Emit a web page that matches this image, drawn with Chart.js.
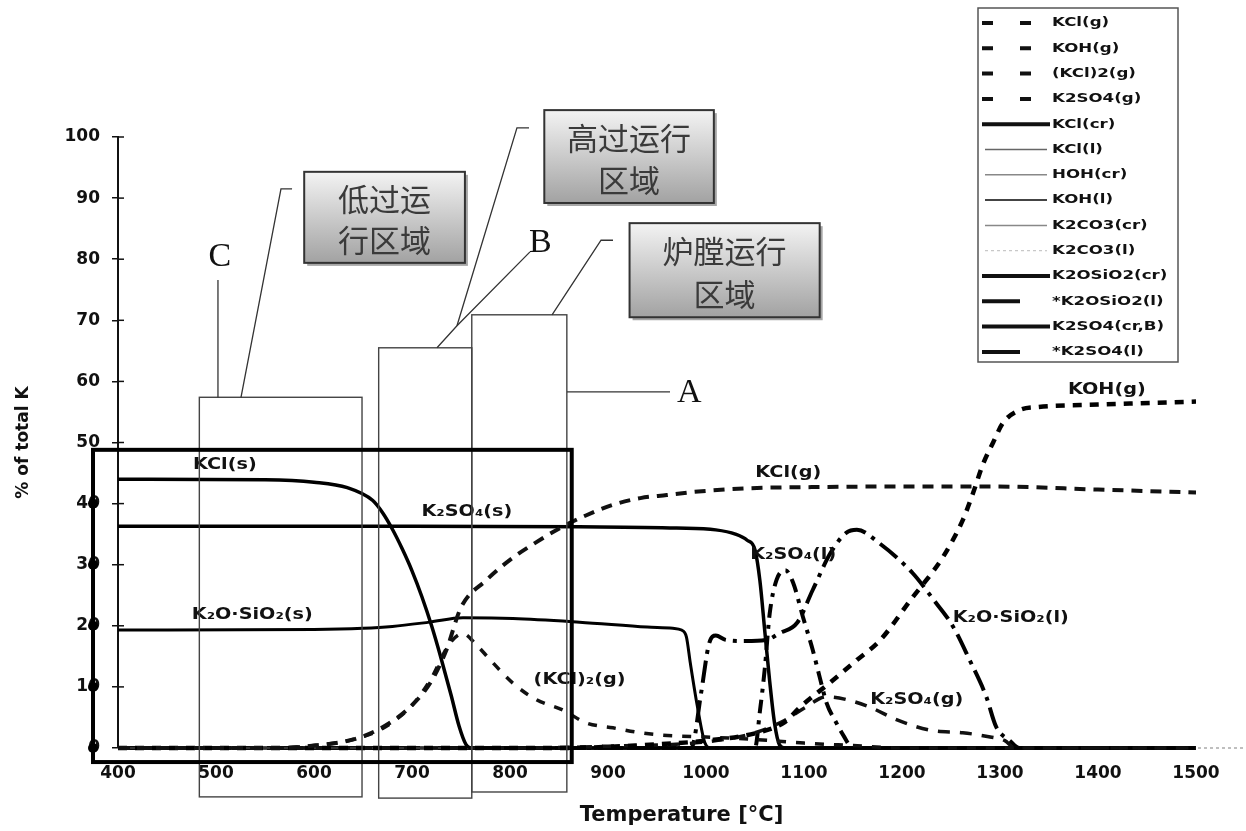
<!DOCTYPE html>
<html>
<head>
<meta charset="utf-8">
<script src="https://cdn.jsdelivr.net/npm/chart.js@4.4.1/dist/chart.umd.min.js"></script>
<style>
  html, body { margin: 0; padding: 0; background: #fff; }
  #wrap { width: 1246px; height: 831px; position: relative; }
</style>
</head>
<body>
<div id="wrap"><canvas id="chart"></canvas></div>
<script>
// temperature (°C) / % of total K
var kclGT = [400, 560, 600, 640, 670, 700, 720, 735, 750, 776, 800, 827, 851, 878, 905, 933, 960, 987, 1042, 1109, 1200, 1290, 1400, 1500];
var kclGV = [0, 0, 0.4, 1.4, 3.4, 7, 11, 16, 23, 27.5, 30.8, 33.7, 36, 38.1, 39.8, 40.9, 41.4, 41.9, 42.5, 42.7, 42.8, 42.8, 42.3, 41.8];

var kohGT = [400, 850, 950, 1000, 1050, 1080, 1096, 1125, 1154, 1178, 1211, 1225, 1242, 1262, 1272, 1283, 1293, 1303, 1320, 1338, 1400, 1500];
var kohGV = [0, 0, 0.6, 1.2, 2.4, 4.2, 6.7, 10.5, 14.4, 17.7, 24.7, 27.5, 31.3, 37.3, 41.5, 46.6, 50, 53.2, 55.3, 55.8, 56.2, 56.7];

var kcl2GT = [400, 560, 600, 640, 670, 700, 720, 738, 752, 765, 780, 803, 827, 854, 878, 905, 933, 956, 1000, 1050, 1100, 1150, 1200, 1500];
var kcl2GV = [0, 0, 0.4, 1.4, 3.2, 7, 11.5, 17, 18.7, 17, 14.4, 10.6, 7.9, 6.2, 4.1, 3.3, 2.5, 2.1, 1.8, 1.4, 0.8, 0.4, 0, 0];

var k2so4GT = [400, 800, 900, 1000, 1050, 1080, 1100, 1123, 1144, 1167, 1195, 1229, 1262, 1290, 1305, 1315, 1500];
var k2so4GV = [0, 0, 0.3, 1, 2.5, 4.5, 6.5, 8.4, 7.9, 6.7, 4.6, 2.9, 2.5, 1.8, 1.2, 0, 0];

var kclCrT = [400, 550, 600, 634, 660, 670, 680, 690, 700, 710, 720, 730, 740, 748, 755, 762, 1500];
var kclCrV = [44, 43.9, 43.5, 42.6, 40.5, 38.5, 35.8, 32.6, 29, 24.8, 20, 14.5, 8.6, 3.6, 0.6, 0, 0];

var zeroT = [400, 1500];
var zeroV = [0, 0];
var k2co3LT = [400, 1550];
var k2co3LV = [0, 0];

var k2osio2CrT = [400, 600, 650, 680, 718, 752, 803, 871, 940, 966, 975, 980, 984, 991, 999, 1005, 1500];
var k2osio2CrV = [19.3, 19.4, 19.6, 19.9, 20.6, 21.3, 21.2, 20.6, 19.8, 19.6, 19.3, 18.2, 13.9, 7, 0.8, 0, 0];

var k2osio2LT = [400, 985, 995, 1003, 1010, 1020, 1040, 1062, 1075, 1093, 1109, 1127, 1143, 1154, 1177, 1211, 1232, 1252, 1269, 1286, 1296, 1310, 1320, 1500];
var k2osio2LV = [0, 0, 9, 17, 18.4, 17.7, 17.5, 17.7, 18.8, 20.5, 25.9, 31.9, 35.2, 35.7, 33.5, 28.6, 24.3, 19.9, 14.4, 8.4, 3.5, 1.2, 0, 0];

var k2so4CrT = [400, 700, 870, 970, 1010, 1030, 1042, 1050, 1055, 1060, 1065, 1070, 1075, 1080, 1500];
var k2so4CrV = [36.3, 36.3, 36.2, 36.0, 35.7, 35, 34, 32.4, 27.4, 19.1, 10.9, 4, 0.5, 0, 0];

var k2so4LT = [400, 1050, 1055, 1060, 1065, 1072, 1081, 1089, 1099, 1109, 1116, 1123, 1133, 1140, 1150, 1500];
var k2so4LV = [0, 0, 6, 13, 22, 27.5, 29.1, 27, 21.4, 16, 11.6, 7.4, 4.1, 2.1, 0, 0];

var seriesLabels = ['KCl(g)', 'KOH(g)', '(KCl)2(g)', 'K2SO4(g)', 'KCl(cr)', 'KCl(l)', 'HOH(cr)', 'KOH(l)',
  'K2CO3(cr)', 'K2CO3(l)', 'K2OSiO2(cr)', '*K2OSiO2(l)', 'K2SO4(cr,B)', '*K2SO4(l)'];
var seriesT = [kclGT, kohGT, kcl2GT, k2so4GT, kclCrT, zeroT, zeroT, zeroT, zeroT, k2co3LT, k2osio2CrT, k2osio2LT, k2so4CrT, k2so4LT];
var seriesV = [kclGV, kohGV, kcl2GV, k2so4GV, kclCrV, zeroV, zeroV, zeroV, zeroV, k2co3LV, k2osio2CrV, k2osio2LV, k2so4CrV, k2so4LV];

var xTicks = [400, 500, 600, 700, 800, 900, 1000, 1100, 1200, 1300, 1400, 1500];

// line looks, plot and legend
var styles = [
  { w: 4, dash: [11, 8], c: '#111', lw: 4, ld: [11, 27], lc: '#111' },
  { w: 4.5, dash: [9, 8], c: '#000', lw: 4, ld: [11, 27], lc: '#111' },
  { w: 3.5, dash: [9, 10], c: '#111', lw: 4, ld: [11, 27], lc: '#111' },
  { w: 3.5, dash: [12, 10], c: '#111', lw: 4, ld: [11, 27], lc: '#111' },
  { w: 3.5, dash: [], c: '#000', lw: 4, ld: [], lc: '#111' },
  { w: 2, dash: [], c: '#333', lw: 1.5, ld: [], lc: '#666', inset: 3 },
  { w: 2, dash: [], c: '#333', lw: 1.5, ld: [], lc: '#888', inset: 3 },
  { w: 3.5, dash: [], c: '#111', lw: 2, ld: [], lc: '#444', inset: 3 },
  { w: 2, dash: [], c: '#333', lw: 1.5, ld: [], lc: '#888', inset: 3 },
  { w: 1.5, dash: [3, 3], c: '#aaa', lw: 1, ld: [3, 3], lc: '#bbb', inset: 3 },
  { w: 3, dash: [], c: '#000', lw: 4, ld: [], lc: '#111' },
  { w: 4, dash: [22, 7, 4, 7], c: '#000', lw: 4, ld: [38, 40], lc: '#111' },
  { w: 3.5, dash: [], c: '#000', lw: 4, ld: [], lc: '#111' },
  { w: 4, dash: [14, 7, 4, 7], c: '#000', lw: 4, ld: [38, 40], lc: '#111' }
];

// annotations, in data units
var curveText = ['KCl(s)', 'K\u2082SO\u2084(s)', 'K\u2082O\u00b7SiO\u2082(s)', '(KCl)\u2082(g)', 'KCl(g)', 'KOH(g)',
  'K\u2082SO\u2084(l)', 'K\u2082O\u00b7SiO\u2082(l)', 'K\u2082SO\u2084(g)'];
var curveTextT = [509, 756, 537, 871, 1084, 1409, 1089, 1311, 1215];
var curveTextV = [46.3, 38.6, 21.8, 11.1, 45, 58.6, 31.6, 21.3, 7.9];

var regionT0 = [483, 666, 761];
var regionT1 = [649, 761, 858];
var regionTop = [57.4, 65.5, 70.9];
var regionBottom = [-8, -8.2, -7.2];

var calloutText = [['低过运', '行区域'], ['高过运行', '区域'], ['炉膛运行', '区域']];
var calloutT0 = [590, 835, 922];
var calloutT1 = [754, 1008, 1116];
var calloutTop = [94.3, 104.4, 85.9];
var calloutBottom = [79.4, 89.2, 70.5];

var letters = ['C', 'B', 'A'];
var letterT = [504, 831, 983];
var letterV = [80.4, 82.7, 58.1];

var leaders = [
  [[502, 76.6], [502, 57.4]],
  [[525.5, 57.4], [566.3, 91.5], [577.6, 91.5]],
  [[725.5, 65.5], [745.9, 69.1], [820.4, 81.2]],
  [[745.9, 69.1], [807.1, 101.5], [819.4, 101.5]],
  [[842.9, 70.9], [892.9, 83.1], [905.1, 83.1]],
  [[858.2, 58.3], [963.3, 58.3]]
];

var bigBox = { t0: 374.5, t1: 863, top: 48.8, bottom: -2.3 };

function pts(t, v) {
  return t.map(function (x, i) { return { x: x, y: v[i] }; });
}

var datasets = seriesLabels.map(function (name, i) {
  var s = styles[i];
  return {
    label: name,
    data: pts(seriesT[i], seriesV[i]),
    borderColor: s.c,
    borderWidth: s.w,
    borderDash: s.dash,
    borderCapStyle: 'butt',
    pointRadius: 0,
    fill: false,
    clip: 8,
    cubicInterpolationMode: 'monotone'
  };
});

function stretchText(ctx, str, x, y, sx) {
  ctx.save();
  ctx.translate(x, y);
  ctx.scale(sx, 1);
  ctx.fillText(str, 0, 0);
  ctx.restore();
}

var overlay = {
  id: 'overlay',
  afterDraw: function (chart) {
    var ctx = chart.ctx;
    var xs = chart.scales.x, ys = chart.scales.y;
    var X = function (t) { return xs.getPixelForValue(t); };
    var Y = function (v) { return ys.getPixelForValue(v); };
    ctx.save();

    // y ticks crossing into the plot
    ctx.strokeStyle = '#111';
    ctx.lineWidth = 1.5;
    ys.ticks.forEach(function (tk) {
      var y = Y(tk.value);
      ctx.beginPath();
      ctx.moveTo(xs.left, y);
      ctx.lineTo(xs.left + 6, y);
      ctx.stroke();
    });

    // curve labels
    ctx.fillStyle = '#111';
    ctx.font = 'bold 16px "DejaVu Sans"';
    ctx.textAlign = 'center';
    ctx.textBaseline = 'middle';
    curveText.forEach(function (s, i) {
      stretchText(ctx, s, X(curveTextT[i]), Y(curveTextV[i]), 1.2);
    });

    // thin operating region boxes
    ctx.strokeStyle = '#444';
    ctx.lineWidth = 1.4;
    regionT0.forEach(function (t0, i) {
      var x0 = X(t0), x1 = X(regionT1[i]), y0 = Y(regionTop[i]), y1 = Y(regionBottom[i]);
      ctx.strokeRect(x0, y0, x1 - x0, y1 - y0);
    });

    // leader lines
    ctx.strokeStyle = '#333';
    ctx.lineWidth = 1.3;
    leaders.forEach(function (ln) {
      ctx.beginPath();
      ln.forEach(function (p, k) {
        if (k === 0) ctx.moveTo(X(p[0]), Y(p[1]));
        else ctx.lineTo(X(p[0]), Y(p[1]));
      });
      ctx.stroke();
    });

    // thick box
    var bx0 = X(bigBox.t0), bx1 = X(bigBox.t1), by0 = Y(bigBox.top), by1 = Y(bigBox.bottom);
    ctx.strokeStyle = '#000';
    ctx.lineWidth = 4;
    ctx.strokeRect(bx0, by0, bx1 - bx0, by1 - by0);
    ctx.fillStyle = '#000';
    [0, 10, 20, 30, 40].forEach(function (v) {
      ctx.beginPath();
      ctx.arc(bx0, Y(v), 5, 0, Math.PI * 2);
      ctx.fill();
    });

    // callouts
    calloutText.forEach(function (lines, i) {
      var x0 = X(calloutT0[i]), x1 = X(calloutT1[i]), y0 = Y(calloutTop[i]), y1 = Y(calloutBottom[i]);
      var w = x1 - x0, h = y1 - y0;
      ctx.fillStyle = 'rgba(0,0,0,0.35)';
      ctx.fillRect(x0 + 3, y0 + 3, w, h);
      var g = ctx.createLinearGradient(0, y0, 0, y1);
      g.addColorStop(0, '#f3f3f3');
      g.addColorStop(1, '#a2a2a2');
      ctx.fillStyle = g;
      ctx.fillRect(x0, y0, w, h);
      ctx.strokeStyle = '#333';
      ctx.lineWidth = 2;
      ctx.strokeRect(x0, y0, w, h);
      ctx.fillStyle = '#3a3a3a';
      ctx.font = '31px "Noto Sans CJK SC"';
      ctx.textAlign = 'center';
      ctx.textBaseline = 'middle';
      ctx.fillText(lines[0], (x0 + x1) / 2, y0 + h * 0.3);
      ctx.fillText(lines[1], (x0 + x1) / 2, y0 + h * 0.75);
    });

    // region letters
    ctx.fillStyle = '#111';
    ctx.font = '34px "Liberation Serif"';
    letters.forEach(function (s, i) {
      ctx.fillText(s, X(letterT[i]), Y(letterV[i]));
    });

    // legend box
    var lx0 = 978, lx1 = 1178, ly0 = 8, ly1 = 362;
    ctx.fillStyle = '#fff';
    ctx.fillRect(lx0, ly0, lx1 - lx0, ly1 - ly0);
    ctx.strokeStyle = '#555';
    ctx.lineWidth = 1.5;
    ctx.strokeRect(lx0, ly0, lx1 - lx0, ly1 - ly0);
    ctx.font = 'bold 13px "DejaVu Sans"';
    ctx.textAlign = 'left';
    chart.data.datasets.forEach(function (ds, i) {
      var s = styles[i];
      var y = 23 + i * 25.3;
      var inset = s.inset || 0;
      ctx.save();
      ctx.strokeStyle = s.lc;
      ctx.lineWidth = s.lw;
      ctx.setLineDash(s.ld);
      ctx.beginPath();
      ctx.moveTo(982 + inset, y);
      ctx.lineTo(1050 - inset, y);
      ctx.stroke();
      ctx.restore();
      ctx.fillStyle = '#111';
      stretchText(ctx, ds.label, 1052, y, 1.28);
    });

    ctx.restore();
  }
};

Chart.defaults.font.family = '"DejaVu Sans"';
Chart.defaults.color = '#111';

new Chart(document.getElementById('chart'), {
  type: 'line',
  data: { datasets: datasets },
  plugins: [overlay],
  options: {
    responsive: true,
    maintainAspectRatio: false,
    animation: false,
    layout: { padding: { top: 137, right: 1, left: 0, bottom: 0 } },
    plugins: { legend: { display: false }, tooltip: { enabled: false } },
    scales: {
      x: {
        type: 'linear',
        min: 400,
        max: 1550,
        afterBuildTicks: function (scale) {
          scale.ticks = xTicks.map(function (v) { return { value: v }; });
        },
        afterFit: function (scale) { scale.height = 83; },
        grid: { display: false, drawTicks: false },
        border: { display: false },
        ticks: {
          padding: 15, font: { size: 17, weight: 'bold' }, maxRotation: 0, autoSkip: false,
          callback: function (v) { return String(v); }
        },
        title: { display: true, text: 'Temperature [°C]', font: { size: 21, weight: 'bold' }, padding: { top: 0, bottom: 3 } }
      },
      y: {
        min: 0,
        max: 100,
        afterFit: function (scale) { scale.width = 118; },
        grid: { drawOnChartArea: false, drawTicks: true, tickLength: 6, color: '#111', lineWidth: 1.5 },
        border: { display: true, color: '#111', width: 2 },
        ticks: { stepSize: 10, padding: 12, font: { size: 17, weight: 'bold' } },
        title: { display: true, text: '% of total K', font: { size: 17, weight: 'bold' }, padding: { top: 13, bottom: 0 } }
      }
    }
  }
});
</script>
</body>
</html>
